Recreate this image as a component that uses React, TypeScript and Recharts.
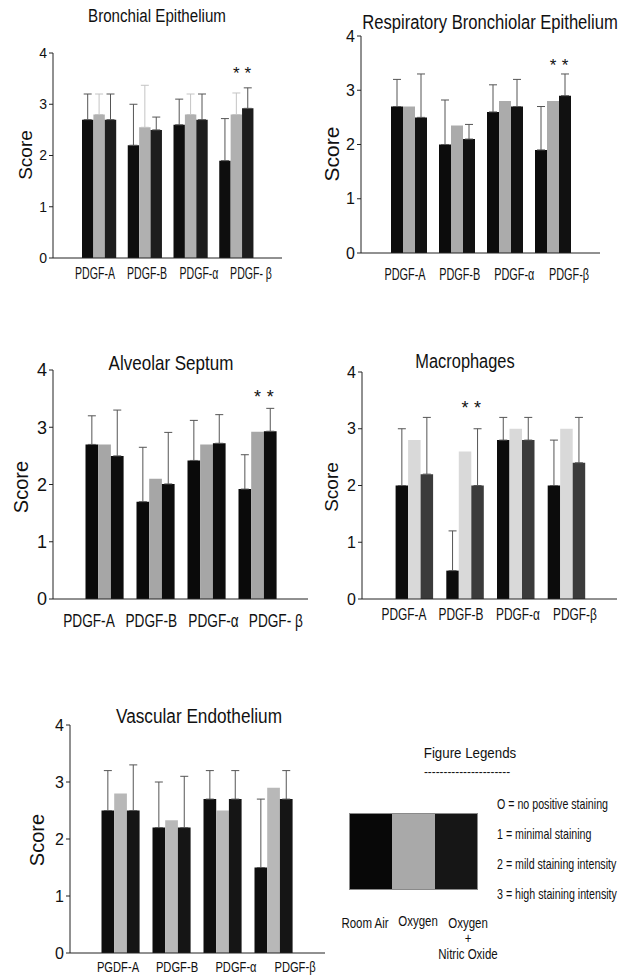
import { BarChart, Bar, XAxis, YAxis, ErrorBar, LabelList } from 'recharts'

const FONT = '"Liberation Sans", Arial, Helvetica, sans-serif'
const INK = '#111'

const seriesNames = ['Room Air', 'Oxygen', 'Oxygen + Nitric Oxide']
const scoreTicks = [0, 1, 2, 3, 4]
const scoreKey = [
  'O = no positive staining',
  '1 = minimal staining',
  '2 = mild staining intensity',
  '3 = high staining intensity',
]

// Bronchial Epithelium
const bronchialCats = ['PDGF-A', 'PDGF-B', 'PDGF-α', 'PDGF- β']
const bronchialRoomAir = [2.7, 2.2, 2.6, 1.9]
const bronchialRoomAirErr = [0.5, 0.8, 0.5, 0.82]
const bronchialOxygen = [2.8, 2.55, 2.8, 2.8]
const bronchialOxygenErr = [0.4, 0.82, 0.4, 0.42]
const bronchialNitric = [2.7, 2.5, 2.7, 2.92]
const bronchialNitricErr = [0.5, 0.25, 0.5, 0.4]
const bronchialStars = [false, false, false, true]

// Respiratory Bronchiolar Epithelium
const respCats = ['PDGF-A', 'PDGF-B', 'PDGF-α', 'PDGF-β']
const respRoomAir = [2.7, 2.0, 2.6, 1.9]
const respRoomAirErr = [0.5, 0.82, 0.5, 0.8]
const respOxygen = [2.7, 2.35, 2.8, 2.8]
const respNitric = [2.5, 2.1, 2.7, 2.9]
const respNitricErr = [0.8, 0.27, 0.5, 0.4]
const respStars = [false, false, false, true]

// Alveolar Septum
const alveolarCats = ['PDGF-A', 'PDGF-B', 'PDGF-α', 'PDGF- β']
const alveolarRoomAir = [2.7, 1.7, 2.42, 1.92]
const alveolarRoomAirErr = [0.5, 0.95, 0.7, 0.6]
const alveolarOxygen = [2.7, 2.1, 2.7, 2.92]
const alveolarNitric = [2.5, 2.01, 2.72, 2.93]
const alveolarNitricErr = [0.8, 0.9, 0.5, 0.4]
const alveolarStars = [false, false, false, true]

// Macrophages
const macroCats = ['PDGF-A', 'PDGF-B', 'PDGF-α', 'PDGF-β']
const macroRoomAir = [2.0, 0.5, 2.8, 2.0]
const macroRoomAirErr = [1.0, 0.7, 0.4, 0.8]
const macroOxygen = [2.8, 2.6, 3.0, 3.0]
const macroNitric = [2.2, 2.0, 2.8, 2.4]
const macroNitricErr = [1.0, 1.0, 0.4, 0.8]
const macroStars = [false, true, false, false]

// Vascular Endothelium
const vascCats = ['PGDF-A', 'PDGF-B', 'PDGF-α', 'PDGF-β']
const vascRoomAir = [2.5, 2.2, 2.7, 1.5]
const vascRoomAirErr = [0.7, 0.8, 0.5, 1.2]
const vascOxygen = [2.8, 2.33, 2.5, 2.9]
const vascNitric = [2.5, 2.2, 2.7, 2.7]
const vascNitricErr = [0.8, 0.9, 0.5, 0.5]
const vascStars = [false, false, false, false]

type Layout = {
  left: number
  top: number
  width: number
  height: number
  axisX: number
  plotTop: number
  plotBottom: number
  plotRight: number
  barPad: [number, number]
  labelPad: [number, number]
  barSize: number
  colors: string[]
  tickFont: number
  catFont: number
  catSqueeze: number
  catMargin: number
  scoreFont: number
  scoreX: number
  scoreY: number
  titleX: number
  titleY: number
  titleFont: number
  titleSqueeze: number
  starFont: number
}

type Panel = {
  title: string
  cats: string[]
  ra: number[]
  raErr: number[] | null
  o2: number[]
  o2Err: number[] | null
  no: number[]
  noErr: number[] | null
  stars: boolean[]
  starLevel: number
  lay: Layout
}

const panels: Panel[] = [
  {
    title: 'Bronchial Epithelium',
    cats: bronchialCats,
    ra: bronchialRoomAir,
    raErr: bronchialRoomAirErr,
    o2: bronchialOxygen,
    o2Err: bronchialOxygenErr,
    no: bronchialNitric,
    noErr: bronchialNitricErr,
    stars: bronchialStars,
    starLevel: 3.67,
    lay: {
      left: 0, top: 0, width: 300, height: 295,
      axisX: 53, plotTop: 53, plotBottom: 258, plotRight: 282,
      barPad: [23, 23], labelPad: [16, 5], barSize: 11.4,
      colors: ['#0e0e0e', '#b0b0b0', '#1d1d1d'],
      tickFont: 14, catFont: 16, catSqueeze: 0.66, catMargin: 9,
      scoreFont: 19, scoreX: 25, scoreY: 155,
      titleX: 157, titleY: 16, titleFont: 18, titleSqueeze: 0.84, starFont: 17,
    },
  },
  {
    title: 'Respiratory Bronchiolar Epithelium',
    cats: respCats,
    ra: respRoomAir,
    raErr: respRoomAirErr,
    o2: respOxygen,
    o2Err: null,
    no: respNitric,
    noErr: respNitricErr,
    stars: respStars,
    starLevel: 3.53,
    lay: {
      left: 312, top: 0, width: 300, height: 295,
      axisX: 361, plotTop: 36, plotBottom: 253, plotRight: 600,
      barPad: [24, 23], labelPad: [16.7, 3.7], barSize: 12,
      colors: ['#0c0c0c', '#ababab', '#111111'],
      tickFont: 16, catFont: 17, catSqueeze: 0.64, catMargin: 14,
      scoreFont: 21, scoreX: 331, scoreY: 154,
      titleX: 490, titleY: 22, titleFont: 20, titleSqueeze: 0.83, starFont: 17,
    },
  },
  {
    title: 'Alveolar Septum',
    cats: alveolarCats,
    ra: alveolarRoomAir,
    raErr: alveolarRoomAirErr,
    o2: alveolarOxygen,
    o2Err: null,
    no: alveolarNitric,
    noErr: alveolarNitricErr,
    stars: alveolarStars,
    starLevel: 3.59,
    lay: {
      left: 0, top: 320, width: 320, height: 320,
      axisX: 53, plotTop: 370, plotBottom: 599, plotRight: 308,
      barPad: [26.5, 24.5], labelPad: [4.8, 1], barSize: 12.7,
      colors: ['#0a0a0a', '#a6a6a6', '#0d0d0d'],
      tickFont: 18, catFont: 18, catSqueeze: 0.76, catMargin: 14,
      scoreFont: 20, scoreX: 21, scoreY: 487,
      titleX: 171, titleY: 362, titleFont: 21, titleSqueeze: 0.81, starFont: 18,
    },
  },
  {
    title: 'Macrophages',
    cats: macroCats,
    ra: macroRoomAir,
    raErr: macroRoomAirErr,
    o2: macroOxygen,
    o2Err: null,
    no: macroNitric,
    noErr: macroNitricErr,
    stars: macroStars,
    starLevel: 3.43,
    lay: {
      left: 312, top: 320, width: 313, height: 320,
      axisX: 362, plotTop: 372, plotBottom: 599, plotRight: 617,
      barPad: [26.6, 25.6], labelPad: [13.5, 13.5], barSize: 12.5,
      colors: ['#0c0c0c', '#d9d9d9', '#3b3b3b'],
      tickFont: 16, catFont: 17, catSqueeze: 0.7, catMargin: 8,
      scoreFont: 19, scoreX: 331, scoreY: 487,
      titleX: 465, titleY: 361, titleFont: 20, titleSqueeze: 0.82, starFont: 18,
    },
  },
  {
    title: 'Vascular Endothelium',
    cats: vascCats,
    ra: vascRoomAir,
    raErr: vascRoomAirErr,
    o2: vascOxygen,
    o2Err: null,
    no: vascNitric,
    noErr: vascNitricErr,
    stars: vascStars,
    starLevel: 3.5,
    lay: {
      left: 0, top: 680, width: 340, height: 300,
      axisX: 70, plotTop: 725, plotBottom: 953, plotRight: 325,
      barPad: [25.5, 25.5], labelPad: [18.5, 0.5], barSize: 12.7,
      colors: ['#0e0e0e', '#b8b8b8', '#151515'],
      tickFont: 16, catFont: 15.5, catSqueeze: 0.72, catMargin: 7,
      scoreFont: 20, scoreX: 37, scoreY: 840,
      titleX: 199, titleY: 716, titleFont: 20, titleSqueeze: 0.86, starFont: 17,
    },
  },
]

const legendColors = ['#080808', '#a9a9a9', '#161616']
const legendLabelX = [365, 418, 468]

function Squeezed({ text, x, y, size, squeeze, anchor = 'middle' }: {
  text: string; x: number; y: number; size: number; squeeze: number; anchor?: 'middle' | 'start'
}) {
  return (
    <div
      style={{
        position: 'absolute',
        left: x,
        top: y,
        fontSize: size,
        lineHeight: 1,
        whiteSpace: 'nowrap',
        color: INK,
        fontFamily: FONT,
        transform: `translate(${anchor === 'middle' ? '-50%' : '0'}, -50%) scaleX(${squeeze})`,
        transformOrigin: anchor === 'middle' ? 'center' : 'left center',
      }}
    >
      {text}
    </div>
  )
}

function ScorePanel({ panel }: { panel: Panel }) {
  const lay = panel.lay
  const rows = panel.cats.map((cat, i) => ({
    cat,
    ra: panel.ra[i],
    o2: panel.o2[i],
    no: panel.no[i],
    raErr: panel.raErr ? [0, panel.raErr[i]] : null,
    o2Err: panel.o2Err ? [0, panel.o2Err[i]] : null,
    noErr: panel.noErr ? [0, panel.noErr[i]] : null,
  }))

  const margin = {
    top: lay.plotTop - lay.top,
    right: lay.left + lay.width - lay.plotRight,
    bottom: lay.top + lay.height - lay.plotBottom - 2,
    left: 0,
  }

  // asterisk above the oxygen / nitric oxide bars, drawn at a fixed score level
  const star = (key: 'o2' | 'no') => (props: any) => {
    const i = props.index
    if (!panel.stars[i]) return null
    const vb = props.viewBox ?? props
    const v = rows[i][key]
    const h = Math.abs(vb.height)
    const bottom = Math.min(vb.y, vb.y + vb.height) + h
    const cy = bottom - panel.starLevel * (h / v)
    return (
      <text
        x={vb.x + vb.width / 2}
        y={cy + lay.starFont * 0.55}
        textAnchor="middle"
        fontSize={lay.starFont}
        fontFamily={FONT}
        fill={INK}
      >
        *
      </text>
    )
  }

  const catTick = (props: any) => {
    const { x, y, payload } = props
    return (
      <text
        transform={`translate(${x},${y}) scale(${lay.catSqueeze},1)`}
        textAnchor="middle"
        dy="0.71em"
        fontSize={lay.catFont}
        fontFamily={FONT}
        fill={INK}
      >
        {payload.value}
      </text>
    )
  }

  const scoreLabel = () => (
    <text
      transform={`translate(${lay.scoreX - lay.left},${lay.scoreY - lay.top}) rotate(-90)`}
      textAnchor="middle"
      dy="0.36em"
      fontSize={lay.scoreFont}
      fontFamily={FONT}
      fill={INK}
    >
      Score
    </text>
  )

  return (
    <div style={{ position: 'absolute', left: lay.left, top: lay.top }}>
      <BarChart width={lay.width} height={lay.height} data={rows} margin={margin} barGap={0} barSize={lay.barSize}>
        <XAxis
          xAxisId="bars"
          dataKey="cat"
          height={1}
          interval={0}
          padding={{ left: lay.barPad[0], right: lay.barPad[1] }}
          tick={false}
          tickSize={4}
          axisLine={{ stroke: '#222' }}
          tickLine={{ stroke: '#222' }}
        />
        <XAxis
          xAxisId="labels"
          dataKey="cat"
          height={1}
          interval={0}
          padding={{ left: lay.labelPad[0], right: lay.labelPad[1] }}
          axisLine={false}
          tickLine={false}
          tickSize={0}
          tickMargin={lay.catMargin}
          tick={catTick}
        />
        <YAxis
          domain={[0, 4]}
          ticks={scoreTicks}
          interval={0}
          width={lay.axisX - lay.left}
          tickSize={4}
          tickMargin={2}
          axisLine={{ stroke: '#222' }}
          tickLine={{ stroke: '#222' }}
          tick={{ fontSize: lay.tickFont, fill: INK, fontFamily: FONT }}
          label={scoreLabel}
        />
        <Bar xAxisId="bars" dataKey="ra" name={seriesNames[0]} fill={lay.colors[0]} isAnimationActive={false}>
          {panel.raErr && <ErrorBar dataKey="raErr" width={4} stroke="#555" strokeWidth={1} direction="y" />}
        </Bar>
        <Bar xAxisId="bars" dataKey="o2" name={seriesNames[1]} fill={lay.colors[1]} isAnimationActive={false}>
          {panel.o2Err && <ErrorBar dataKey="o2Err" width={4} stroke="#c4c4c4" strokeWidth={1} direction="y" />}
          <LabelList dataKey="o2" content={star('o2')} />
        </Bar>
        <Bar xAxisId="bars" dataKey="no" name={seriesNames[2]} fill={lay.colors[2]} isAnimationActive={false}>
          {panel.noErr && <ErrorBar dataKey="noErr" width={4} stroke="#555" strokeWidth={1} direction="y" />}
          <LabelList dataKey="no" content={star('no')} />
        </Bar>
      </BarChart>
      <div style={{ position: 'absolute', left: 0, top: 0 }}>
        <Squeezed
          text={panel.title}
          x={lay.titleX - lay.left}
          y={lay.titleY - lay.top}
          size={lay.titleFont}
          squeeze={lay.titleSqueeze}
        />
      </div>
    </div>
  )
}

function FigureLegend() {
  return (
    <>
      <Squeezed text="Figure Legends" x={470} y={753} size={14} squeeze={0.95} />
      <Squeezed text="----------------------" x={467} y={772} size={12} squeeze={0.98} />
      <div
        style={{
          position: 'absolute',
          left: 349,
          top: 813,
          width: 129,
          height: 77,
          display: 'flex',
          border: '1px solid #8a8a8a',
          boxSizing: 'border-box',
        }}
      >
        {legendColors.map((c, i) => (
          <div key={seriesNames[i]} style={{ flex: 1, background: c }} />
        ))}
      </div>
      {scoreKey.map((t, i) => (
        <Squeezed key={t} text={t} x={497} y={803 + i * 30} size={15} squeeze={0.71} anchor="start" />
      ))}
      {seriesNames.map((name, i) =>
        name.split(' + ').length > 1 ? (
          <div key={name}>
            <Squeezed text={name.split(' + ')[0]} x={legendLabelX[i]} y={923} size={14} squeeze={0.82} />
            <Squeezed text="+" x={legendLabelX[i]} y={938} size={14} squeeze={0.82} />
            <Squeezed text={name.split(' + ')[1]} x={legendLabelX[i]} y={954} size={14} squeeze={0.82} />
          </div>
        ) : (
          <Squeezed key={name} text={name} x={legendLabelX[i]} y={i === 1 ? 921 : 923} size={14} squeeze={0.82} />
        )
      )}
    </>
  )
}

export default function App() {
  return (
    <div
      style={{
        position: 'absolute',
        left: 0,
        top: 0,
        width: 625,
        height: 980,
        background: '#fff',
        overflow: 'hidden',
        fontFamily: FONT,
      }}
    >
      {panels.map((p) => (
        <ScorePanel key={p.title} panel={p} />
      ))}
      <FigureLegend />
    </div>
  )
}
